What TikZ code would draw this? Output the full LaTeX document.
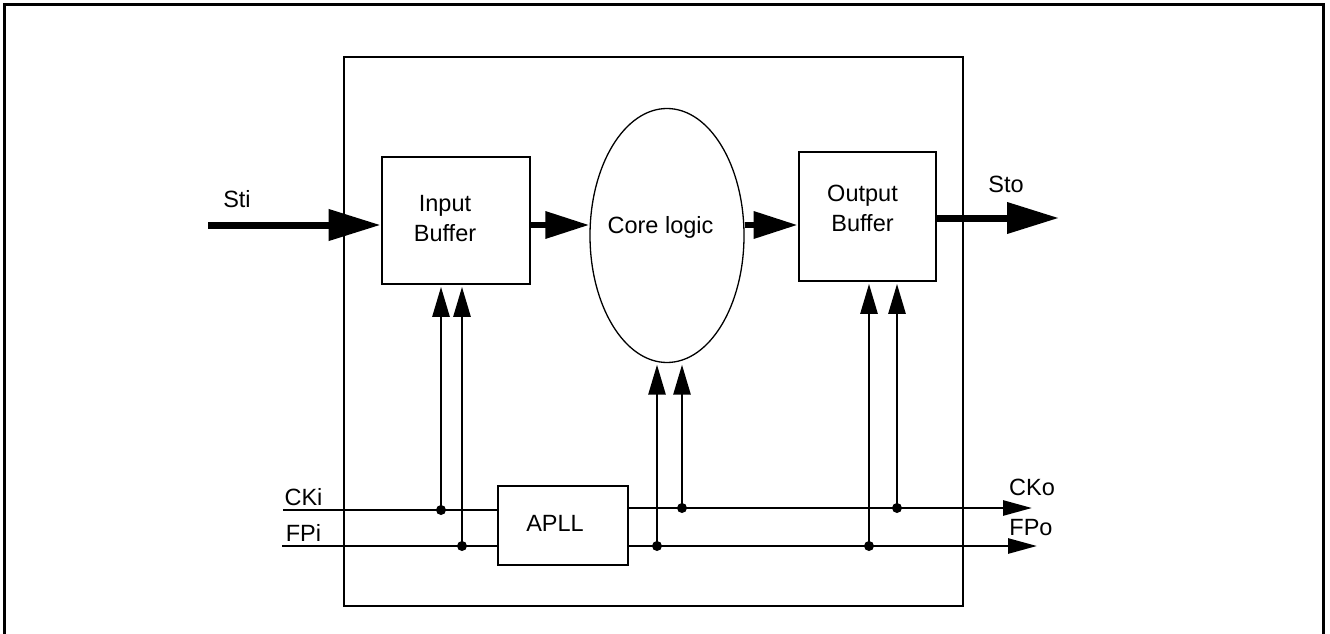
\documentclass[tikz,border=0pt]{standalone}
\usepackage{fontspec}
\setmainfont{Liberation Sans}
\usetikzlibrary{arrows.meta,shapes.geometric,calc}
\begin{document}
\begin{tikzpicture}[x=1pt,y=-1pt,
  blk/.style={draw,line width=2.7pt,rectangle,inner sep=0pt},
  lbl/.style={inner sep=0pt,font=\fontsize{23.5}{30}\selectfont},
  wire/.style={line width=2.7pt},
  bigarrow/.style={line width=7pt,-{Triangle[length=52pt,width=30pt]}},
  midarrow/.style={line width=6.5pt,-{Triangle[length=44pt,width=26pt]}},
  varrow/.style={line width=2.7pt,shorten >=1.5pt,-{Triangle[length=30pt,width=17pt]}},
  harrow/.style={line width=2.7pt,-{Triangle[length=29pt,width=15pt]}},
  dot/.style={circle,fill,inner sep=0pt,minimum size=10pt}]
\useasboundingbox (0,0) rectangle (1330,634);
% outer frame
\draw[line width=3pt] (4,650) -- (4,5) -- (1323,5) -- (1323,650);
% blocks
\node[blk, minimum width=619pt, minimum height=549pt] (chip) at (653.5,331.5) {};
\node[blk, minimum width=148pt, minimum height=127pt] (ib) at (456,220.5) {};
\node[blk, minimum width=137pt, minimum height=129pt] (ob) at (867.5,216.5) {};
\node[blk, minimum width=130pt, minimum height=79pt] (apll) at (563,525.5) {};
\node[draw, ellipse, line width=1.3pt, minimum width=154pt, minimum height=254pt, inner sep=0pt] (core) at (667,235.5) {};
% texts
\node[lbl, align=center] (ibt) at (445,218.5) {Input\\Buffer};
\node[lbl, align=center] (obt) at (862.5,208) {Output\\Buffer};
\node[lbl, anchor=base] (coret) at (660.5,233) {Core logic};
\node[lbl, anchor=base] (apllt) at (555,531) {APLL};
\node[lbl, anchor=base] (stit) at (237,207) {Sti};
\node[lbl, anchor=base] (stot) at (1006,192) {Sto};
\node[lbl, anchor=base] (ckit) at (303.5,505) {CKi};
\node[lbl, anchor=base] (fpit) at (303.5,541) {FPi};
\node[lbl, anchor=base] (ckot) at (1032,495) {CKo};
\node[lbl, anchor=base] (fpot) at (1031,535) {FPo};
% free ends
\coordinate (stiS) at (208,225);
\coordinate (stoE) at (1059,218);
\coordinate (ckiS) at (283,510);
\coordinate (fpiS) at (282,546);
\coordinate (ckoE) at (1032,508);
\coordinate (fpoE) at (1037,546);
% data path
\draw[bigarrow] (stiS) -- (stiS -| ib.west);
\draw[midarrow] (ib.east |- stiS) -- (core.west |- stiS);
\draw[midarrow] (core.east |- stiS) -- (ob.west |- stiS);
\draw[bigarrow] (ob.east |- stoE) -- (stoE);
% clock / frame wires
\draw[wire] (ckiS) -- (ckiS -| apll.west);
\draw[wire] (fpiS) -- (fpiS -| apll.west);
\draw[harrow] (apll.east |- ckoE) -- (ckoE);
\draw[harrow] (apll.east |- fpoE) -- (fpoE);
% junction dots
\node[dot] (d1) at (441,510) {};
\node[dot] (d2) at (462,546) {};
\node[dot] (d3) at (657,546) {};
\node[dot] (d4) at (682,508) {};
\node[dot] (d5) at (869,546) {};
\node[dot] (d6) at (897,508) {};
% vertical taps
\draw[varrow] (d1.center) -- (d1 |- ib.south);
\draw[varrow] (d2.center) -- (d2 |- ib.south);
\draw[varrow] (d3.center) -- (d3 |- core.south);
\draw[varrow] (d4.center) -- (d4 |- core.south);
\draw[varrow] (d5.center) -- (d5 |- ob.south);
\draw[varrow] (d6.center) -- (d6 |- ob.south);
\end{tikzpicture}
\end{document}
